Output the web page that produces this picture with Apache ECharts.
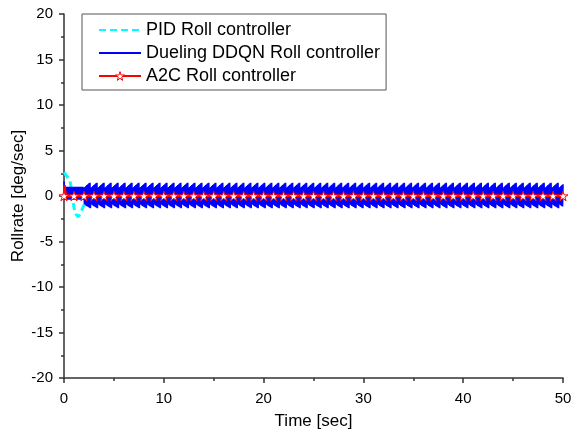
<!DOCTYPE html>
<html>
<head>
    <meta charset="utf-8">
    <script src="https://cdn.jsdelivr.net/npm/echarts@6/dist/echarts.min.js"></script>
    <style>
        body { margin: 0; background: #fff; }
    </style>
</head>
<body>
<div id="main" style="width: 573px;height:437px;"></div>
<script>
    // legend names
    var seriesNames = ['PID Roll controller', 'Dueling DDQN Roll controller', 'A2C Roll controller'];

    var pidTime = [0, 0.2, 0.6, 0.8, 1.0, 1.2, 1.45, 1.8, 2.2, 2.8, 50];
    var pidRate = [2.6, 2.5, 1.7, 0.3, -1.3, -2.0, -2.3, -1.5, -0.5, 0, 0];

    // Dueling DDQN: fast chatter around 0 (sampled every 0.05 s)
    var ddqnStep = 0.05;
    var ddqnSpike = [1.6, -0.4];               // first samples
    var ddqnStartCycle = [1.0, -0.4];          // first ~2 s, narrower band
    var ddqnStartEnd = 2.0;
    // one tooth of the band (~0.7 s)
    var ddqnCycle = [0.9, -0.9, 1.0, -1.0, 1.1, -1.1, 1.2, -1.15, 1.3, -1.2, 1.4, -1.3, 1.45, -1.35];
    var ddqnEnd = 50;

    // A2C: small kick at start then flat 0, stars every second
    var a2cTime = [0, 0.05, 0.15, 0.3, 1, 2, 3, 4, 5, 6, 7, 8, 9, 10, 11, 12, 13, 14, 15, 16, 17, 18, 19, 20,
        21, 22, 23, 24, 25, 26, 27, 28, 29, 30, 31, 32, 33, 34, 35, 36, 37, 38, 39, 40,
        41, 42, 43, 44, 45, 46, 47, 48, 49, 50];
    var a2cRate = [0, 1.2, 0.3, 0, 0, 0, 0, 0, 0, 0, 0, 0, 0, 0, 0, 0, 0, 0, 0, 0, 0, 0, 0, 0,
        0, 0, 0, 0, 0, 0, 0, 0, 0, 0, 0, 0, 0, 0, 0, 0, 0, 0, 0, 0,
        0, 0, 0, 0, 0, 0, 0, 0, 0, 0];

    var xTicks = [0, 10, 20, 30, 40, 50];
    var yTicks = [-20, -15, -10, -5, 0, 5, 10, 15, 20];

    var star = 'path://M100,0 L122.45,69.1 L195.1,69.1 L136.3,111.8 L158.8,180.9 L100,138.2 L41.2,180.9 L63.7,111.8 L4.9,69.1 L77.55,69.1 Z';

    var pidData = pidTime.map(function (t, i) { return [t, pidRate[i]]; });

    var ddqnData = [];
    var t = 0;
    ddqnSpike.forEach(function (v) { ddqnData.push([t, v]); t += ddqnStep; });
    var k = 0;
    while (t < ddqnStartEnd) {
        ddqnData.push([+t.toFixed(3), ddqnStartCycle[k % ddqnStartCycle.length]]);
        t += ddqnStep; k++;
    }
    k = 0;
    while (t <= ddqnEnd + 1e-9) {
        ddqnData.push([+t.toFixed(3), ddqnCycle[k % ddqnCycle.length]]);
        t += ddqnStep; k++;
    }

    var a2cData = a2cTime.map(function (t, i) {
        return {
            value: [t, a2cRate[i]],
            symbol: Number.isInteger(t) ? star : 'none'
        };
    });

    var font = 'Liberation Sans, Arial, sans-serif';
    var axisCol = '#333';

    var myChart = echarts.init(document.getElementById('main'));
    var option = {
        backgroundColor: '#fff',
        animation: false,
        textStyle: { fontFamily: font },
        grid: { left: 64, right: 10, top: 14, bottom: 59, containLabel: false, outerBoundsMode: 'none' },
        legend: {
            orient: 'vertical',
            left: 82,
            top: 14,
            padding: [7, 6, 5, 16],
            itemGap: 5,
            itemWidth: 42,
            itemHeight: 11,
            borderColor: '#555',
            borderWidth: 1,
            data: [
                { name: seriesNames[0], itemStyle: { opacity: 0 } },
                { name: seriesNames[1], itemStyle: { opacity: 0 } },
                { name: seriesNames[2], itemStyle: { color: '#fff', borderColor: '#ff0000', borderWidth: 1 } }
            ],
            textStyle: { fontFamily: font, fontSize: 18, color: '#000', lineHeight: 18 }
        },
        xAxis: {
            type: 'value',
            min: xTicks[0],
            max: xTicks[xTicks.length - 1],
            interval: 10,
            name: 'Time [sec]',
            nameLocation: 'middle',
            nameGap: 35,
            nameMoveOverlap: false,
            nameTextStyle: { fontFamily: font, fontSize: 17, color: '#000' },
            axisLine: { onZero: false, lineStyle: { color: axisCol, width: 1.5 } },
            axisTick: { inside: false, length: 5, lineStyle: { color: axisCol, width: 1.5 } },
            minorTick: { show: true, splitNumber: 2, length: 3, lineStyle: { color: axisCol, width: 1.5 } },
            axisLabel: { fontFamily: font, fontSize: 15, color: '#000', margin: 13 },
            splitLine: { show: false }
        },
        yAxis: {
            type: 'value',
            min: yTicks[0],
            max: yTicks[yTicks.length - 1],
            interval: 5,
            name: 'Rollrate [deg/sec]',
            nameLocation: 'middle',
            nameGap: 37,
            nameMoveOverlap: false,
            nameTextStyle: { fontFamily: font, fontSize: 17, color: '#000' },
            axisLine: { show: true, lineStyle: { color: axisCol, width: 1.5 } },
            axisTick: { show: true, inside: false, length: 5, lineStyle: { color: axisCol, width: 1.5 } },
            minorTick: { show: true, splitNumber: 2, length: 3, lineStyle: { color: axisCol, width: 1.5 } },
            axisLabel: { fontFamily: font, fontSize: 15, color: '#000', margin: 11 },
            splitLine: { show: false }
        },
        series: [
            {
                name: seriesNames[0],
                type: 'line',
                data: pidData,
                showSymbol: false,
                symbol: 'none',
                color: '#00ffff',
                lineStyle: { color: '#00ffff', width: 3, type: [7, 4] }
            },
            {
                name: seriesNames[1],
                type: 'line',
                data: ddqnData,
                showSymbol: false,
                symbol: 'none',
                sampling: null,
                color: '#0000ff',
                lineStyle: { color: '#0000ff', width: 1.6 }
            },
            {
                name: seriesNames[2],
                type: 'line',
                data: a2cData,
                showAllSymbol: true,
                symbol: star,
                symbolSize: 10,
                symbolKeepAspect: true,
                color: '#ff0000',
                itemStyle: { color: '#fff', borderColor: '#ff0000', borderWidth: 1 },
                lineStyle: { color: '#ff0000', width: 2.5 }
            }
        ]
    };
    myChart.setOption(option);
</script>
</body>
</html>
